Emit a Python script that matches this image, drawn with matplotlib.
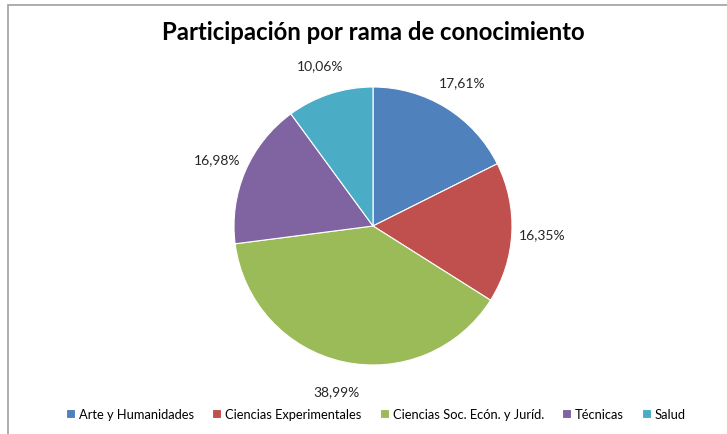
import matplotlib
matplotlib.use("Agg")
import matplotlib.pyplot as plt
from matplotlib.patches import Rectangle

# data
ramas = ["Arte y Humanidades", "Ciencias Experimentales", "Ciencias Soc. Ecón. y Juríd.",
         "Técnicas", "Salud"]
porcentajes = [17.61, 16.35, 38.99, 16.98, 10.06]
colores = ["#4F81BD", "#C0504D", "#9BBB59", "#8064A2", "#4BACC6"]

plt.rcParams["font.family"] = ["Lato", "DejaVu Sans"]

W, H = 727, 435
fig = plt.figure(figsize=(W / 100, H / 100), dpi=100)

# thin grey chart border (only left/top edges visible in the crop)
fig.patches.append(Rectangle((8 / W, -0.1), 1.2, (H - 6) / H + 0.1, transform=fig.transFigure,
                             fill=False, edgecolor="#A0A0A0", linewidth=1.2))

cx, cy, r = 373, 227, 139
ax = fig.add_axes([(cx - r) / W, (H - cy - r) / H, 2 * r / W, 2 * r / H])
wedges, _, autotexts = ax.pie(
    porcentajes, colors=colores, startangle=90, counterclock=False,
    autopct=lambda p: f"{p:.2f}%".replace(".", ","), pctdistance=1.22,
    wedgeprops={"edgecolor": "white", "linewidth": 0.8},
    textprops={"fontsize": 10, "color": "#262626"},
)
ax.set_xlim(-1, 1)
ax.set_ylim(-1, 1)
ax.set_aspect("equal")

fig.text(373 / W, 1 - 33 / H, "Participación por rama de conocimiento",
         ha="center", va="center", fontsize=17.2, fontweight="bold", color="black")

fig.legend(wedges, ramas, loc="center", bbox_to_anchor=(376 / W, 1 - 415 / H),
           ncol=5, frameon=False, fontsize=9.3, handlelength=0.7, handleheight=0.7,
           handletextpad=0.3, columnspacing=1.4)

fig.savefig("out.png", dpi=100)
